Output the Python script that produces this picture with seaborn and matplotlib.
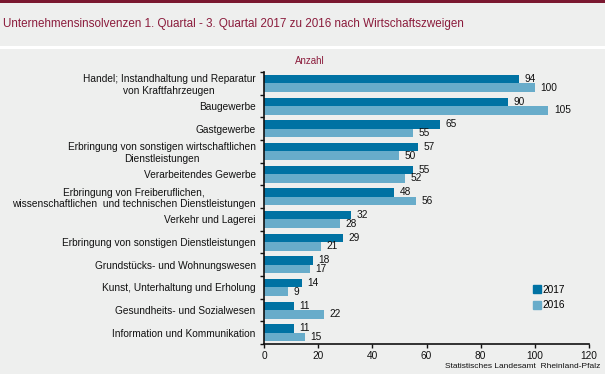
import matplotlib
matplotlib.use("Agg")
import matplotlib.pyplot as plt
import seaborn as sns
import pandas as pd
from matplotlib.patches import Rectangle
from matplotlib.lines import Line2D

CATEGORIES = [
    "Handel; Instandhaltung und Reparatur\nvon Kraftfahrzeugen",
    "Baugewerbe",
    "Gastgewerbe",
    "Erbringung von sonstigen wirtschaftlichen\nDienstleistungen",
    "Verarbeitendes Gewerbe",
    "Erbringung von Freiberuflichen,\nwissenschaftlichen  und technischen Dienstleistungen",
    "Verkehr und Lagerei",
    "Erbringung von sonstigen Dienstleistungen",
    "Grundstücks- und Wohnungswesen",
    "Kunst, Unterhaltung und Erholung",
    "Gesundheits- und Sozialwesen",
    "Information und Kommunikation",
]
VALUES_2017 = [94, 90, 65, 57, 55, 48, 32, 29, 18, 14, 11, 11]
VALUES_2016 = [100, 105, 55, 50, 52, 56, 28, 21, 17, 9, 22, 15]
YEARS = ["2017", "2016"]
X_TICKS = [0, 20, 40, 60, 80, 100, 120]

TITLE = "Unternehmensinsolvenzen 1. Quartal - 3. Quartal 2017 zu 2016 nach Wirtschaftszweigen"
SOURCE = "Statistisches Landesamt  Rheinland-Pfalz"

BG = "#eeefee"
DARK_RED = "#8b1c3c"
COLORS = ["#0072a3", "#68acca"]

df = pd.DataFrame({
    "Wirtschaftszweig": CATEGORIES * 2,
    "Anzahl": VALUES_2017 + VALUES_2016,
    "Jahr": [YEARS[0]] * len(CATEGORIES) + [YEARS[1]] * len(CATEGORIES),
})

plt.rcParams["font.family"] = ["Liberation Sans", "DejaVu Sans"]

fig = plt.figure(figsize=(6.05, 3.74), dpi=100)
fig.patch.set_facecolor("white")

# background bands: title band, plot band, dark red top line
fig.patches.append(Rectangle((0, 1 - 46 / 374), 1, 46 / 374, transform=fig.transFigure,
                             facecolor=BG, edgecolor="none", zorder=-10))
fig.patches.append(Rectangle((0, 0), 1, 1 - 49 / 374, transform=fig.transFigure,
                             facecolor=BG, edgecolor="none", zorder=-10))
fig.patches.append(Rectangle((0, 1 - 3 / 374), 1, 3 / 374, transform=fig.transFigure,
                             facecolor="#7a1830", edgecolor="none", zorder=-9))

ax = fig.add_axes([264 / 605, 1 - 344 / 374, (589 - 264) / 605, (344 - 72) / 374])
ax.set_facecolor("none")

sns.barplot(data=df, y="Wirtschaftszweig", x="Anzahl", hue="Jahr", orient="h",
            palette=COLORS, width=0.75, ax=ax, legend=False, saturation=1)

for container in ax.containers:
    ax.bar_label(container, padding=4, fontsize=7.3, color="#111111")

ax.set_xlim(0, 120)
ax.set_xticks(X_TICKS)
ax.set_ylim(len(CATEGORIES) - 0.5, -0.5)
ax.set_xlabel("")
ax.set_ylabel("")
ax.tick_params(axis="x", labelsize=7.3, length=3, width=1, colors="#111111", pad=2)
ax.tick_params(axis="y", labelsize=7.3, length=0, pad=6, colors="#111111")
for lbl in ax.get_yticklabels():
    lbl.set_multialignment("center")
ax.set_yticks([i - 0.5 for i in range(len(CATEGORIES) + 1)], minor=True)
ax.tick_params(axis="y", which="minor", length=3, width=1, color="#111111")
for side in ["top", "right"]:
    ax.spines[side].set_visible(False)
for side in ["left", "bottom"]:
    ax.spines[side].set_linewidth(1.2)
    ax.spines[side].set_color("#111111")

handles = [Line2D([], [], marker="s", linestyle="none", markersize=6,
                  markerfacecolor=c, markeredgecolor=c) for c in COLORS]
ax.legend(handles, YEARS, loc="lower left", bbox_to_anchor=(0.8, 0.09), frameon=False,
          fontsize=7.3, handletextpad=0.1, labelspacing=0.55, handlelength=0.8)

fig.text(3 / 605, 1 - 24 / 374, TITLE, fontsize=8.4, color=DARK_RED, va="center", ha="left")
fig.text(310 / 605, 1 - 61 / 374, "Anzahl", fontsize=7, color=DARK_RED, va="center", ha="center")
fig.text(600 / 605, 1 - 367 / 374, SOURCE, fontsize=6, color="#111111", va="center", ha="right")

fig.savefig("out.png", dpi=100, facecolor=fig.get_facecolor())
